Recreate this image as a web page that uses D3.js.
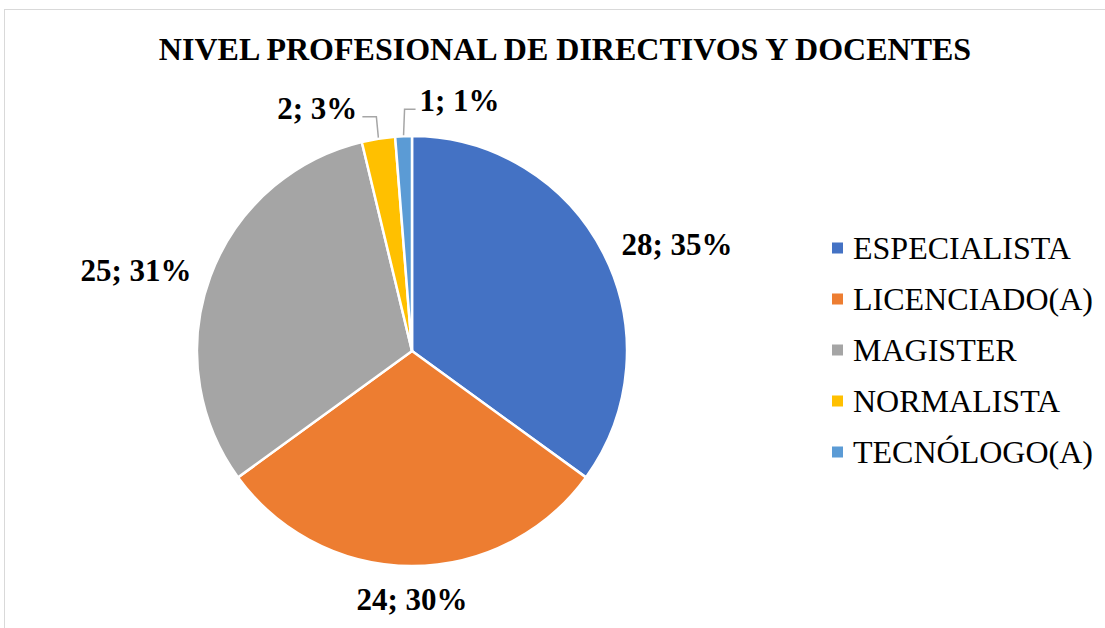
<!DOCTYPE html>
<html>
<head>
<meta charset="utf-8">
<script src="https://cdn.jsdelivr.net/npm/d3@7"></script>
<style>
  body { margin: 0; background: #fff; }
  text { font-family: "Liberation Serif", "Times New Roman", serif; }
</style>
</head>
<body>
<div id="chart"></div>
<script>
// Chart data
const categories = ["ESPECIALISTA", "LICENCIADO(A)", "MAGISTER", "NORMALISTA", "TECNÓLOGO(A)"];
const counts = [28, 24, 25, 2, 1];
const percents = [35, 30, 31, 3, 1];
const colors = ["#4472C4", "#ED7D31", "#A5A5A5", "#FFC000", "#5B9BD5"];

const width = 1105;
const height = 628;
const cx = 412, cy = 351, radius = 215;

const svg = d3.select("#chart")
    .append("svg")
    .attr("width", width)
    .attr("height", height);

// Chart area frame
svg.append("rect")
    .attr("x", 4.5)
    .attr("y", 9.5)
    .attr("width", width + 20)
    .attr("height", height + 20)
    .attr("fill", "none")
    .attr("stroke", "#d9d9d9")
    .attr("stroke-width", 1);

// Title
svg.append("text")
    .attr("x", 565)
    .attr("y", 60)
    .attr("text-anchor", "middle")
    .attr("font-size", 32)
    .attr("font-weight", "bold")
    .text("NIVEL PROFESIONAL DE DIRECTIVOS Y DOCENTES");

const pie = d3.pie().sort(null).value(d => d);
const arcs = pie(counts);
const arc = d3.arc().innerRadius(0).outerRadius(radius);

const g = svg.append("g").attr("transform", `translate(${cx},${cy})`);

g.selectAll("path")
    .data(arcs)
    .enter()
    .append("path")
    .attr("d", arc)
    .attr("fill", (d, i) => colors[i])
    .attr("stroke", "#fff")
    .attr("stroke-width", 2.5);

// Labels: big slices outside the edge, small ones with leader lines
const labelFont = 31;
const labelPos = d3.arc().innerRadius(radius + 20).outerRadius(radius + 20);
const edgePos = d3.arc().innerRadius(radius).outerRadius(radius);

arcs.forEach((d, i) => {
    const txt = `${counts[i]}; ${percents[i]}%`;
    const mid = (d.startAngle + d.endAngle) / 2;
    const label = g.append("text")
        .attr("font-size", labelFont)
        .attr("font-weight", "bold")
        .text(txt);
    if (d.endAngle - d.startAngle > 0.3) {
        const [x, y] = labelPos.centroid(d);
        const s = Math.sin(mid), c = Math.cos(mid);
        let anchor = Math.abs(s) < 0.3 ? "middle" : (s > 0 ? "start" : "end");
        label.attr("x", x)
            .attr("y", y + (c < -0.7 ? 24 : 11))
            .attr("text-anchor", anchor);
    } else {
        // leader line: from slice edge up to label
        const [ex, ey] = edgePos.centroid(d);
        const left = i === 3;
        const ky = left ? ey - 22 : ey - 27;
        const hx = left ? ex - 16 : ex + 12;
        g.append("polyline")
            .attr("points", `${ex},${ey - 1} ${ex - (left ? 2 : -1)},${ky} ${hx},${ky}`)
            .attr("fill", "none")
            .attr("stroke", "#a6a6a6")
            .attr("stroke-width", 1.5);
        label.attr("x", left ? hx - 5 : hx + 4)
            .attr("y", ky + 2)
            .attr("text-anchor", left ? "end" : "start");
    }
});

// Legend
const legend = svg.append("g").attr("transform", "translate(832, 248)");
const rowH = 51;

legend.selectAll("rect")
    .data(categories)
    .enter()
    .append("rect")
    .attr("x", 0)
    .attr("y", (d, i) => i * rowH - 5.5)
    .attr("width", 11)
    .attr("height", 11)
    .attr("fill", (d, i) => colors[i]);

legend.selectAll("text")
    .data(categories)
    .enter()
    .append("text")
    .attr("x", 21)
    .attr("y", (d, i) => i * rowH + 11)
    .attr("font-size", 32)
    .attr("fill", "#000")
    .text(d => d);
</script>
</body>
</html>
